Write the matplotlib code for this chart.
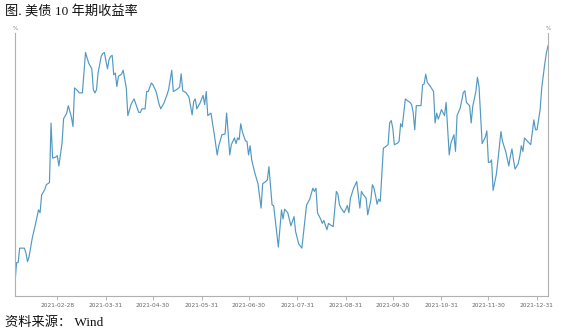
import numpy as np
import pandas as pd
import matplotlib
matplotlib.use('Agg')
import matplotlib.pyplot as plt

plt.rcParams['font.family'] = ['Noto Sans CJK SC', 'DejaVu Sans']

# 美债10年期收益率（%），交易日相对 2021-02-01 的天数
start_date = '2021-02-01'
day_offsets = [0, 1, 2, 3, 6, 7, 8, 9, 11, 13, 15, 16, 17, 19, 20, 22, 23, 24, 26, 27, 28, 30, 31, 33, 34,
               36, 37, 38, 40, 41, 43, 45, 47, 49, 50, 51, 52, 53, 55, 56, 57, 59, 60, 61, 62, 63, 64, 65, 66,
               68, 69, 71, 72, 74, 75, 76, 78, 79, 80, 81, 83, 84, 85, 87, 88, 90, 92, 93, 95, 97, 98, 100,
               101, 103, 105, 106, 107, 109, 111, 113, 114, 115, 116, 118, 120, 121, 122, 123, 125, 127, 129,
               130, 132, 134, 135, 136, 137, 138, 140, 141, 142, 143, 144, 145, 147, 148, 149, 150, 151, 153,
               155, 157, 158, 160, 161, 162, 164, 165, 168, 170, 171, 172, 174, 176, 178, 179, 181, 183, 186,
               188, 190, 191, 192, 193, 195, 196, 197, 199, 200, 201, 203, 205, 206, 207, 208, 210, 212, 213,
               214, 216, 218, 220, 221, 222, 224, 225, 227, 228, 229, 230, 231, 232, 233, 235, 236, 238, 239,
               240, 241, 242, 244, 245, 246, 247, 249, 250, 252, 253, 254, 255, 256, 259, 260, 261, 262, 263,
               265, 267, 268, 269, 270, 271, 272, 274, 275, 277, 278, 280, 281, 282, 284, 286, 287, 288, 290,
               291, 292, 294, 295, 296, 298, 300, 301, 302, 303, 304, 305, 307, 308, 310, 311, 313, 315, 316,
               317, 318, 319, 321, 322, 323, 324, 325, 327, 329, 331, 332, 333, 335, 336, 338, 339, 340]
yield_10y = [1.090, 1.148, 1.148, 1.189, 1.189, 1.175, 1.151, 1.165, 1.217, 1.255, 1.297, 1.289, 1.339,
             1.354, 1.368, 1.374, 1.542, 1.443, 1.446, 1.450, 1.421, 1.485, 1.554, 1.570, 1.591, 1.559,
             1.532, 1.641, 1.633, 1.627, 1.627, 1.741, 1.711, 1.695, 1.636, 1.627, 1.636, 1.683, 1.730,
             1.738, 1.741, 1.695, 1.721, 1.730, 1.733, 1.678, 1.683, 1.645, 1.674, 1.680, 1.691, 1.641,
             1.563, 1.594, 1.603, 1.610, 1.584, 1.572, 1.572, 1.582, 1.582, 1.631, 1.631, 1.655, 1.650,
             1.631, 1.594, 1.582, 1.598, 1.622, 1.636, 1.691, 1.631, 1.636, 1.643, 1.681, 1.633, 1.628,
             1.615, 1.565, 1.603, 1.610, 1.582, 1.598, 1.620, 1.594, 1.631, 1.563, 1.570, 1.514, 1.452,
             1.478, 1.509, 1.511, 1.570, 1.514, 1.452, 1.481, 1.500, 1.484, 1.500, 1.495, 1.540, 1.518,
             1.492, 1.490, 1.452, 1.478, 1.438, 1.401, 1.371, 1.302, 1.371, 1.377, 1.382, 1.419, 1.311,
             1.309, 1.192, 1.297, 1.271, 1.299, 1.289, 1.252, 1.278, 1.236, 1.201, 1.189, 1.311, 1.327,
             1.358, 1.349, 1.358, 1.288, 1.271, 1.259, 1.267, 1.241, 1.259, 1.255, 1.250, 1.349, 1.341,
             1.311, 1.302, 1.289, 1.309, 1.289, 1.330, 1.358, 1.377, 1.302, 1.349, 1.341, 1.330, 1.283,
             1.325, 1.368, 1.358, 1.337, 1.313, 1.327, 1.321, 1.471, 1.474, 1.481, 1.542, 1.549, 1.528,
             1.481, 1.485, 1.490, 1.540, 1.531, 1.610, 1.606, 1.600, 1.594, 1.572, 1.523, 1.591, 1.591,
             1.650, 1.652, 1.680, 1.657, 1.645, 1.631, 1.542, 1.570, 1.553, 1.565, 1.580, 1.563, 1.600,
             1.452, 1.484, 1.509, 1.462, 1.563, 1.584, 1.628, 1.633, 1.600, 1.591, 1.542, 1.589, 1.631,
             1.671, 1.645, 1.484, 1.502, 1.520, 1.431, 1.431, 1.438, 1.352, 1.396, 1.434, 1.518, 1.490,
             1.462, 1.421, 1.448, 1.469, 1.438, 1.412, 1.427, 1.448, 1.478, 1.462, 1.500, 1.490, 1.481,
             1.551, 1.523, 1.523, 1.580, 1.641, 1.711, 1.740, 1.760]

tick_labels = ['2021-02-28', '2021-03-31', '2021-04-30', '2021-05-31', '2021-06-30', '2021-07-31',
               '2021-08-31', '2021-09-30', '2021-10-31', '2021-11-30', '2021-12-31']

dates = pd.Timestamp(start_date) + pd.to_timedelta(day_offsets, unit='D')
ticks = pd.to_datetime(tick_labels)

fig = plt.figure(figsize=(5.61, 3.35), dpi=100)
ax = fig.add_axes([0.0267, 0.1164, 0.9501, 0.7851])

ax.plot(dates, yield_10y, color='#5299c2', lw=0.85)
ax.set_xlim(dates[0], dates[-1])
ax.set_ylim(1.054, 1.796)

ax.set_xticks(ticks)
ax.set_xticklabels(tick_labels, fontsize=4.2, color='#666666', family='DejaVu Sans')
ax.tick_params(axis='x', length=3, width=0.6, color='#aaaaaa', pad=2)
ax.set_yticks([])

for side in ['left', 'right', 'bottom']:
    ax.spines[side].set_color('#b0b0b0')
    ax.spines[side].set_linewidth(0.8)
ax.spines['top'].set_visible(False)

ax.text(0, 1.008, '%', transform=ax.transAxes, fontsize=4, color='#888888',
        ha='center', va='bottom', family='DejaVu Sans')
ax.text(1, 1.008, '%', transform=ax.transAxes, fontsize=4, color='#888888',
        ha='center', va='bottom', family='DejaVu Sans')

fig.text(5 / 561, 1 - 12 / 335, '图. 美债 10 年期收益率', fontsize=9.5, color='#111111',
         ha='left', va='center', family=['Liberation Serif', 'Noto Sans CJK SC'])
fig.text(5 / 561, 1 - 323 / 335, '资料来源： Wind', fontsize=9.5, color='#111111',
         ha='left', va='center', family=['Liberation Serif', 'Noto Sans CJK SC'])

fig.savefig('out.png', dpi=100)
